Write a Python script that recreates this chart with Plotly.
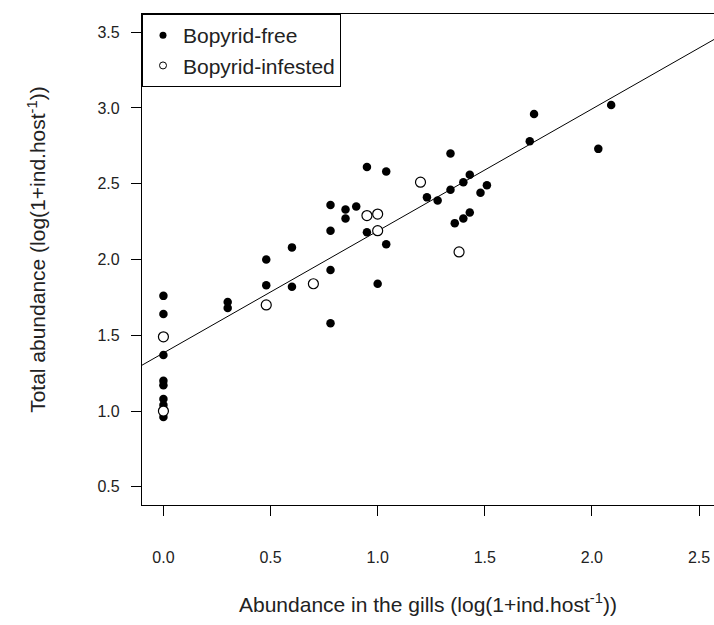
import plotly.graph_objects as go

# Bopyrid-free hosts (filled)
free_x = [0, 0, 0, 0, 0, 0, 0, 0,
          0.30, 0.30, 0.48, 0.48, 0.60, 0.60,
          0.78, 0.78, 0.78, 0.78, 0.85, 0.85, 0.90,
          0.95, 0.95, 1.00, 1.04, 1.04,
          1.23, 1.28, 1.34, 1.34, 1.36, 1.40, 1.40, 1.43, 1.43,
          1.48, 1.51, 1.71, 1.73, 2.03, 2.09]
free_y = [1.76, 1.64, 1.37, 1.20, 1.17, 1.08, 1.04, 0.96,
          1.72, 1.68, 2.00, 1.83, 2.08, 1.82,
          2.36, 2.19, 1.93, 1.58, 2.33, 2.27, 2.35,
          2.61, 2.18, 1.84, 2.58, 2.10,
          2.41, 2.39, 2.70, 2.46, 2.24, 2.51, 2.27, 2.56, 2.31,
          2.44, 2.49, 2.78, 2.96, 2.73, 3.02]

# Bopyrid-infested hosts (open)
inf_x = [0, 0, 0.48, 0.70, 0.95, 1.00, 1.00, 1.20, 1.38]
inf_y = [1.49, 1.00, 1.70, 1.84, 2.29, 2.30, 2.19, 2.51, 2.05]

# fitted regression line
fit_intercept = 1.383
fit_slope = 0.805

x_range = [-0.1, 2.57]
y_range = [0.38, 3.62]
x_ticks = [0.0, 0.5, 1.0, 1.5, 2.0, 2.5]
y_ticks = [0.5, 1.0, 1.5, 2.0, 2.5, 3.0, 3.5]

FONT = "Liberation Sans, Arial, sans-serif"
TXT = "#222222"

fig = go.Figure()

line_x = [-0.1, 2.6]
line_y = [fit_intercept + fit_slope * v for v in line_x]
fig.add_trace(go.Scatter(x=line_x, y=line_y, mode="lines",
                         line=dict(color="black", width=1), showlegend=False,
                         hoverinfo="skip"))

fig.add_trace(go.Scatter(x=free_x, y=free_y, mode="markers",
                         marker=dict(symbol="circle", size=8.5, color="black"),
                         showlegend=False))
fig.add_trace(go.Scatter(x=inf_x, y=inf_y, mode="markers",
                         marker=dict(symbol="circle", size=10, color="white",
                                     line=dict(color="black", width=1.2)),
                         showlegend=False))

# legend entries
fig.add_trace(go.Scatter(x=[None], y=[None], mode="markers", name="Bopyrid-free",
                         marker=dict(symbol="circle", size=7, color="black")))
fig.add_trace(go.Scatter(x=[None], y=[None], mode="markers", name="Bopyrid-infested",
                         marker=dict(symbol="circle", size=7, color="white",
                                     line=dict(color="black", width=1))))

fig.update_layout(
    width=714, height=625,
    margin=dict(l=142, r=0, t=14, b=120, autoexpand=False),
    plot_bgcolor="white", paper_bgcolor="white",
    font=dict(family=FONT, color=TXT),
    legend=dict(x=0, y=1, xanchor="left", yanchor="top",
                bordercolor="black", borderwidth=1, bgcolor="white",
                font=dict(size=21, color=TXT, family=FONT),
                tracegroupgap=0),
    xaxis=dict(range=x_range, tickvals=x_ticks, ticktext=[f"{v:.1f}" for v in x_ticks],
               automargin=False,
               showgrid=False, zeroline=False, showline=True, mirror=True,
               linecolor="black", linewidth=1.3,
               ticks="outside", ticklen=10, tickcolor="black", tickwidth=1.3,
               tickfont=dict(size=16, color=TXT), ticklabelstandoff=28),
    yaxis=dict(range=y_range, tickvals=y_ticks, ticktext=[f"{v:.1f}" for v in y_ticks],
               automargin=False,
               showgrid=False, zeroline=False, showline=True, mirror=False,
               linecolor="black", linewidth=1.3,
               ticks="outside", ticklen=10, tickcolor="black", tickwidth=1.3,
               tickfont=dict(size=16, color=TXT), ticklabelstandoff=8),
    annotations=[
        dict(text="Abundance in the gills (log(1+ind.host<sup>-1</sup>))",
             xref="paper", yref="paper", x=0.5, y=-0.2, xanchor="center",
             yanchor="middle", showarrow=False, font=dict(size=21, color=TXT)),
        dict(text="Total abundance (log(1+ind.host<sup>-1</sup>))",
             xref="paper", yref="paper", x=-0.185, y=0.52, xanchor="center",
             yanchor="middle", textangle=-90, showarrow=False,
             font=dict(size=21, color=TXT)),
    ],
)

fig.write_html("out.html", config={"displayModeBar": False},
               post_script="document.body.style.margin='0px';document.body.style.overflow='hidden';")
